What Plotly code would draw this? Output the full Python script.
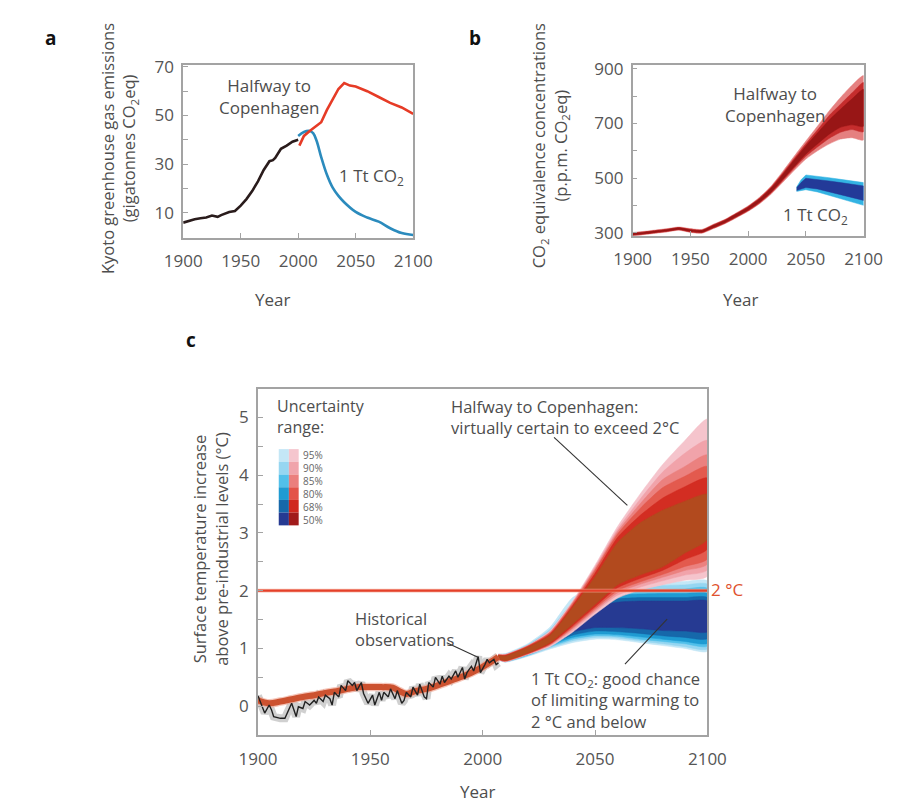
import plotly.graph_objects as go

W, H = 911, 803
def px(x): return x / W
def py(y): return 1 - y / H

FONT = "Open Sans"
TXT = "#4d4d4d"

# ---------------- Panel a: emissions ----------------
a_hist_years = [1900, 1905, 1910, 1915, 1920, 1925, 1930, 1933, 1935, 1940, 1945, 1950,
                1955, 1960, 1965, 1970, 1975, 1978, 1980, 1985, 1990, 1995, 2000]
a_hist_vals = [5.9, 6.7, 7.3, 7.7, 8.0, 8.8, 8.3, 9.0, 9.3, 10.3, 10.7, 12.9,
               15.6, 18.9, 22.9, 27.6, 31.2, 31.6, 32.5, 36.3, 37.6, 39.2, 40.0]
a_red_years = [2001, 2005, 2010, 2015, 2020, 2025, 2030, 2035, 2040, 2045, 2050,
               2060, 2070, 2080, 2090, 2100]
a_red_vals = [37.6, 41.6, 43.6, 45.6, 47.2, 52.3, 56.9, 60.9, 63.3, 62.3, 61.9,
              60.0, 57.6, 55.2, 53.3, 50.7]
a_blue_years = [2000, 2005, 2010, 2013, 2016, 2020, 2025, 2030, 2035, 2040, 2050,
                2060, 2070, 2080, 2090, 2100]
a_blue_vals = [41.6, 43.2, 43.6, 42.7, 39.6, 32.9, 25.6, 20.3, 16.9, 14.3, 10.3,
               8.0, 6.3, 3.6, 1.6, 0.8]

# ---------------- Panel b: concentrations ----------------
b_years = [1900, 1910, 1920, 1930, 1940, 1950, 1960, 1970, 1980, 1990, 2000,
           2010, 2020, 2030, 2040, 2050, 2060, 2070, 2080, 2090, 2100]
b_red_outer_lo = [290, 294, 299, 304, 310, 302, 299, 316, 334, 356, 379, 407, 442, 485, 529, 570, 600, 625, 643, 648, 640]
b_red_outer_hi = [302, 306, 311, 316, 322, 316, 313, 332, 350, 374, 399, 431, 472, 525, 581, 636, 690, 745, 795, 840, 875]
b_red_mid_lo = [292, 296, 301, 306, 312, 304, 301, 318, 336, 358, 381, 410, 446, 491, 537, 580, 614, 645, 668, 678, 670]
b_red_mid_hi = [300, 304, 309, 314, 320, 314, 311, 330, 348, 372, 397, 428, 468, 519, 573, 626, 676, 728, 770, 812, 850]
b_red_inner_lo = [293, 297, 302, 307, 313, 306, 303, 320, 338, 360, 384, 413, 450, 496, 543, 588, 625, 660, 686, 695, 690]
b_red_inner_hi = [299, 303, 308, 313, 319, 312, 309, 328, 346, 370, 394, 425, 464, 514, 567, 618, 665, 712, 752, 790, 825]
b_blue_years = [2042, 2046, 2050, 2060, 2070, 2080, 2090, 2100]
b_blue_outer_lo = [452, 455, 458, 450, 437, 425, 413, 401]
b_blue_outer_hi = [468, 495, 512, 508, 502, 496, 490, 484]
b_blue_inner_lo = [455, 460, 466, 461, 450, 440, 430, 419]
b_blue_inner_hi = [465, 485, 500, 496, 490, 484, 478, 472]

# ---------------- Panel c: temperature ----------------
c_years = [2007, 2010, 2020, 2030, 2040, 2050, 2060, 2070, 2080, 2090, 2100]
red95_lo = [0.80, 0.77, 0.89, 1.03, 1.28, 1.59, 1.87, 2.01, 2.10, 2.18, 2.25]
red90_lo = [0.80, 0.77, 0.90, 1.05, 1.31, 1.63, 1.92, 2.06, 2.17, 2.27, 2.36]
red85_lo = [0.81, 0.78, 0.90, 1.06, 1.34, 1.66, 1.96, 2.11, 2.23, 2.35, 2.46]
red80_lo = [0.81, 0.78, 0.91, 1.07, 1.36, 1.69, 2.00, 2.15, 2.28, 2.42, 2.55]
red68_lo = [0.81, 0.79, 0.91, 1.08, 1.39, 1.72, 2.05, 2.21, 2.35, 2.54, 2.72]
red50_lo = [0.82, 0.79, 0.92, 1.10, 1.42, 1.76, 2.10, 2.27, 2.41, 2.65, 2.89]
red50_hi = [0.88, 0.87, 1.02, 1.23, 1.71, 2.24, 2.83, 3.17, 3.39, 3.55, 3.67]
red68_hi = [0.88, 0.88, 1.03, 1.25, 1.74, 2.30, 2.92, 3.30, 3.60, 3.80, 3.95]
red80_hi = [0.89, 0.88, 1.04, 1.27, 1.77, 2.35, 2.98, 3.42, 3.78, 3.98, 4.15]
red85_hi = [0.89, 0.89, 1.04, 1.28, 1.79, 2.38, 3.02, 3.50, 3.92, 4.15, 4.35]
red90_hi = [0.90, 0.89, 1.05, 1.29, 1.80, 2.41, 3.06, 3.58, 4.05, 4.38, 4.60]
red95_hi = [0.90, 0.90, 1.05, 1.31, 1.82, 2.44, 3.11, 3.67, 4.18, 4.60, 4.97]

blue95_lo = [0.80, 0.76, 0.86, 0.99, 1.10, 1.16, 1.15, 1.10, 1.05, 1.00, 0.95]
blue90_lo = [0.80, 0.77, 0.87, 1.01, 1.13, 1.19, 1.18, 1.13, 1.08, 1.03, 0.99]
blue85_lo = [0.81, 0.77, 0.88, 1.03, 1.16, 1.22, 1.21, 1.16, 1.12, 1.08, 1.04]
blue80_lo = [0.81, 0.78, 0.89, 1.05, 1.19, 1.25, 1.24, 1.20, 1.16, 1.12, 1.09]
blue68_lo = [0.81, 0.78, 0.90, 1.07, 1.23, 1.30, 1.29, 1.26, 1.22, 1.19, 1.17]
blue50_lo = [0.82, 0.79, 0.91, 1.09, 1.28, 1.36, 1.36, 1.34, 1.31, 1.30, 1.29]
blue50_hi = [0.88, 0.87, 1.00, 1.20, 1.52, 1.72, 1.80, 1.82, 1.82, 1.82, 1.82]
blue68_hi = [0.88, 0.88, 1.02, 1.24, 1.60, 1.80, 1.86, 1.88, 1.88, 1.88, 1.88]
blue80_hi = [0.89, 0.89, 1.04, 1.27, 1.66, 1.86, 1.92, 1.94, 1.95, 1.95, 1.95]
blue85_hi = [0.89, 0.89, 1.05, 1.30, 1.72, 1.92, 1.98, 2.00, 2.02, 2.03, 2.04]
blue90_hi = [0.90, 0.90, 1.06, 1.33, 1.79, 1.99, 2.04, 2.07, 2.09, 2.10, 2.11]
blue95_hi = [0.90, 0.91, 1.08, 1.37, 1.88, 2.06, 2.10, 2.13, 2.15, 2.16, 2.17]

hind_years = [1900, 1905, 1910, 1915, 1920, 1925, 1930, 1935, 1940, 1945, 1950, 1955,
              1960, 1963, 1966, 1970, 1975, 1980, 1985, 1990, 1995, 2000, 2005, 2007]
hind_vals = [0.10, 0.05, 0.08, 0.12, 0.16, 0.19, 0.23, 0.26, 0.30, 0.33, 0.33, 0.33,
             0.32, 0.26, 0.21, 0.26, 0.30, 0.36, 0.43, 0.50, 0.58, 0.68, 0.80, 0.85]

obs_years = [1900, 1902, 1903, 1905, 1906, 1907, 1910, 1912, 1913, 1915, 1917, 1918,
             1920, 1921, 1923, 1925, 1926, 1927, 1929, 1930, 1932, 1933, 1934, 1936,
             1937, 1939, 1940, 1942, 1943, 1944, 1946, 1947, 1949, 1951, 1952, 1954,
             1955, 1956, 1958, 1959, 1961, 1962, 1964, 1965, 1966, 1968, 1969, 1971,
             1972, 1974, 1975, 1976, 1978, 1979, 1981, 1982, 1983, 1985, 1986, 1988,
             1989, 1991, 1992, 1993, 1995, 1996, 1998, 1999, 2001, 2002, 2003, 2005,
             2006, 2007]
obs_vals = [0.18, -0.01, -0.12, 0.02, -0.06, -0.18, -0.21, -0.21, -0.12, 0.05, -0.18, -0.01,
            -0.04, 0.08, 0.02, 0.10, 0.05, 0.16, 0.08, 0.19, 0.13, 0.02, 0.24, 0.16,
            0.36, 0.27, 0.44, 0.36, 0.41, 0.27, 0.41, 0.22, 0.05, 0.19, 0.02, 0.24,
            0.10, 0.24, 0.16, 0.30, 0.13, 0.27, 0.05, 0.10, 0.24, 0.16, 0.33, 0.19,
            0.38, 0.16, 0.13, 0.41, 0.33, 0.50, 0.38, 0.52, 0.41, 0.52, 0.47, 0.61,
            0.50, 0.67, 0.47, 0.58, 0.69, 0.61, 0.86, 0.58, 0.72, 0.81, 0.75, 0.81,
            0.72, 0.75]

limit_years = [1900, 2100]
limit_vals = [2, 2]

legend_labels = ["95%", "90%", "85%", "80%", "68%", "50%"]
blue_cols = ["#c4e7f6", "#96d6f1", "#52c0ea", "#1f9bd2", "#1668aa", "#263a92"]
red_cols = ["#f5c6ce", "#f0a4ab", "#eb7f7d", "#e35349", "#d0281f", "#a11b1b"]
red_plot_cols = ["#f5c4cc", "#f1a3aa", "#eb817f", "#e35a4e", "#d32d22", "#b24a1e"]

fig = go.Figure()

def band(x, lo, hi, color, xa, ya, shape="spline"):
    fig.add_trace(go.Scatter(
        x=list(x) + list(x)[::-1], y=list(hi) + list(lo)[::-1],
        fill="toself", fillcolor=color, mode="lines",
        line=dict(width=0.5, color=color, shape=shape, smoothing=0.6),
        xaxis=xa, yaxis=ya, hoverinfo="skip", showlegend=False))

def line(x, y, color, width, xa, ya, shape="linear"):
    fig.add_trace(go.Scatter(
        x=x, y=y, mode="lines", line=dict(color=color, width=width, shape=shape),
        xaxis=xa, yaxis=ya, hoverinfo="skip", showlegend=False))

# Panel a
line(a_blue_years, a_blue_vals, "#2b8bbd", 2.6, "x", "y", "spline")
line(a_red_years, a_red_vals, "#e63b26", 2.6, "x", "y")
line(a_hist_years, a_hist_vals, "#2a1c1c", 2.6, "x", "y")

# Panel b
band(b_years, b_red_outer_lo, b_red_outer_hi, "#e58080", "x2", "y2")
band(b_years, b_red_mid_lo, b_red_mid_hi, "#c52d2d", "x2", "y2")
band(b_years, b_red_inner_lo, b_red_inner_hi, "#981616", "x2", "y2")
band(b_blue_years, b_blue_outer_lo, b_blue_outer_hi, "#33b3e3", "x2", "y2", "linear")
band(b_blue_years, b_blue_inner_lo, b_blue_inner_hi, "#233a98", "x2", "y2", "linear")

# Panel c: 1 Tt CO2 bands (blue), then Halfway (red) on top
blue_los = [blue95_lo, blue90_lo, blue85_lo, blue80_lo, blue68_lo, blue50_lo]
blue_his = [blue95_hi, blue90_hi, blue85_hi, blue80_hi, blue68_hi, blue50_hi]
for lo, hi, col in zip(blue_los, blue_his, blue_cols):
    band(c_years, lo, hi, col, "x3", "y3")
red_los = [red95_lo, red90_lo, red85_lo, red80_lo, red68_lo, red50_lo]
red_his = [red95_hi, red90_hi, red85_hi, red80_hi, red68_hi, red50_hi]
for lo, hi, col in zip(red_los, red_his, red_plot_cols):
    band(c_years, lo, hi, col, "x3", "y3")

# hindcast band and observations
line(obs_years, obs_vals, "rgba(150,150,150,0.45)", 8, "x3", "y3")
line(hind_years, hind_vals, "rgba(240,160,140,0.6)", 8.5, "x3", "y3", "spline")
line(hind_years, hind_vals, "#cc5230", 6, "x3", "y3", "spline")
line(obs_years, obs_vals, "#222222", 1.4, "x3", "y3")
line(limit_years, limit_vals, "rgba(245,170,150,0.7)", 3.8, "x3", "y3")
line(limit_years, limit_vals, "#e5402a", 2.4, "x3", "y3")

axis_style = dict(showline=True, linecolor="#a3a3a3", linewidth=1.5, mirror=True,
                  ticks="inside", ticklen=5, tickcolor="#a3a3a3", tickwidth=1.2,
                  showgrid=False, zeroline=False,
                  tickfont=dict(family=FONT, size=17, color="#555555"))

fig.update_layout(
    width=W, height=H, margin=dict(l=0, r=0, t=0, b=0),
    paper_bgcolor="white", plot_bgcolor="white", showlegend=False,
    xaxis=dict(domain=[px(163), px(403)], range=[1900, 2100],
               tickvals=[1900, 1950, 2000, 2050, 2100], anchor="y",
               ticklabelstandoff=7, **axis_style),
    yaxis=dict(domain=[py(225), py(48)], range=[-0.4, 70.8],
               tickvals=[10, 30, 50, 70], anchor="x", ticklabelstandoff=4,
               minor=dict(tickvals=[20, 40, 60], ticks="inside", ticklen=5,
                          tickcolor="#a3a3a3"), **axis_style),
    xaxis2=dict(domain=[px(632), px(873)], range=[1900, 2100],
                tickvals=[1900, 1950, 2000, 2050, 2100], anchor="y2",
                ticklabelstandoff=7, **axis_style),
    yaxis2=dict(domain=[py(223), py(48)], range=[289, 914],
                tickvals=[300, 500, 700, 900], anchor="x2", ticklabelstandoff=4,
                minor=dict(tickvals=[400, 600, 800], ticks="inside", ticklen=5,
                           tickcolor="#a3a3a3"), **axis_style),
    xaxis3=dict(domain=[px(241), px(710)], range=[1900, 2100],
                tickvals=[1900, 1950, 2000, 2050, 2100], anchor="y3",
                ticklabelstandoff=8, **axis_style),
    yaxis3=dict(domain=[py(733.5), py(379)], range=[-0.5, 5.5],
                tickvals=[0, 1, 2, 3, 4, 5], anchor="x3", ticklabelstandoff=4,
                minor=dict(dtick=0.5, ticks="inside", ticklen=5,
                           tickcolor="#a3a3a3"), **axis_style),
)

ann = []
def text(x, y, s, size=17, color=TXT, xanchor="center", align="center",
         angle=0, bold=False):
    ann.append(dict(x=px(x), y=py(y), xref="paper", yref="paper", text=s,
                    showarrow=False, xanchor=xanchor, yanchor="middle",
                    align=align, textangle=angle,
                    font=dict(family=FONT, size=size, color=color,
                              weight="bold" if bold else "normal")))

# panel letters
text(25, 20, "a", 19, "#111111", bold=True)
text(468, 20, "b", 19, "#111111", bold=True)
text(171, 329, "c", 19, "#111111", bold=True)

# panel a
text(96, 133, "Kyoto greenhouse gas emissions<br>(gigatonnes CO<sub>2</sub>eq)", 16.5, angle=-90)
text(256, 288, "Year", 17)
text(253, 80, "Halfway to<br>Copenhagen", 17)
text(359, 162, "1 Tt CO<sub>2</sub>", 17)

# panel b
text(546, 131, "CO<sub>2</sub> equivalence concentrations<br>(p.p.m. CO<sub>2</sub>eq)", 16.5, angle=-90)
text(745, 288, "Year", 17)
text(781, 88, "Halfway to<br>Copenhagen", 17)
text(823, 202, "1 Tt CO<sub>2</sub>", 17)

# panel c
text(191, 543, "Surface temperature increase<br>above pre-industrial levels (°C)", 16.5, angle=-90)
text(470, 791, "Year", 17)
text(259, 408, "Uncertainty<br>range:", 16, xanchor="left", align="left")
text(440, 408, "Halfway to Copenhagen:<br>virtually certain to exceed 2°C", 16.5,
     xanchor="left", align="left")
text(340, 625, "Historical<br>observations", 16.5, xanchor="left", align="left")
text(524, 698, "1 Tt CO<sub>2</sub>: good chance<br>of limiting warming to<br>2 °C and below",
     16.5, xanchor="left", align="left")
text(712, 585, "2 °C", 17, "#e0522e", xanchor="left", align="left")

# legend swatches + labels (one stacked text block)
LEG_FONT = 10
row_h = LEG_FONT * 1.3
leg_top = 441.0
shapes = []
for i in range(len(legend_labels)):
    y0 = leg_top + i * row_h
    shapes.append(dict(type="rect", xref="paper", yref="paper",
                       x0=px(262.7), x1=px(273.3), y0=py(y0 + row_h), y1=py(y0),
                       fillcolor=blue_cols[i], line=dict(width=0)))
    shapes.append(dict(type="rect", xref="paper", yref="paper",
                       x0=px(273.3), x1=px(283.5), y0=py(y0 + row_h), y1=py(y0),
                       fillcolor=red_cols[i], line=dict(width=0)))
text(285.5, leg_top + 3 * row_h, "<br>".join(legend_labels), LEG_FONT, "#666666",
     xanchor="left", align="left")

# pointer lines
for (x0, y0, x1, y1) in [(550, 429, 626.5, 498.5), (438, 639, 470.5, 654),
                         (624, 661, 668, 615)]:
    shapes.append(dict(type="line", xref="paper", yref="paper",
                       x0=px(x0), y0=py(y0), x1=px(x1), y1=py(y1),
                       line=dict(color="#333333", width=1.1)))

fig.update_layout(annotations=ann, shapes=shapes)
fig.write_html("out.html")
